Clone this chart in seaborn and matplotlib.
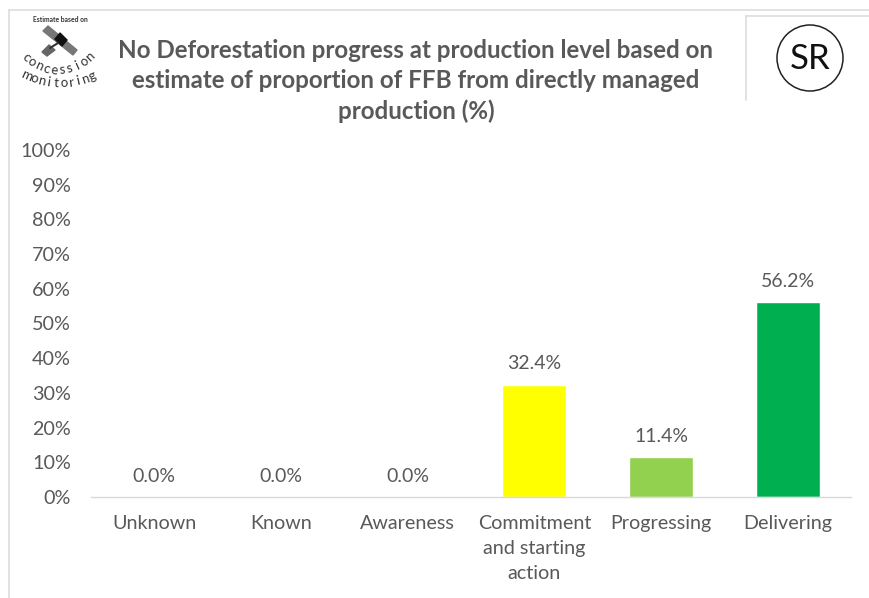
import numpy as np
import matplotlib.pyplot as plt
from matplotlib.lines import Line2D
from matplotlib.patches import Circle, Polygon
import seaborn as sns

# chart data
categories = ["Unknown", "Known", "Awareness", "Commitment\nand starting\naction", "Progressing", "Delivering"]
values = [0.0, 0.0, 0.0, 32.4, 11.4, 56.2]
bar_colors = ["#FF0000", "#FF6600", "#FFC000", "#FFFF00", "#92D050", "#00B050"]
y_ticks = list(range(0, 101, 10))
title = "No Deforestation progress at production level based on\nestimate of proportion of FFB from directly managed\nproduction (%)"

W, H = 869, 598
GREY = "#595959"

sns.set_theme(style="white")
plt.rcParams["font.family"] = ["Lato", "DejaVu Sans"]

fig = plt.figure(figsize=(W / 100, H / 100), dpi=100)
ax = fig.add_axes([91 / W, 1 - 497 / H, (851 - 91) / W, (497 - 150) / H])

sns.barplot(x=categories, y=values, hue=categories, palette=bar_colors, legend=False,
            width=0.505, saturation=1, ax=ax)

ax.set_xlim(-0.5, 5.5)
ax.set_ylim(0, 100)
ax.set_yticks(y_ticks)
ax.set_yticklabels([f"{t}%" for t in y_ticks], fontsize=14.2, color=GREY)
ax.tick_params(axis="x", length=0, pad=13, labelsize=14.2, labelcolor=GREY)
ax.tick_params(axis="y", length=0, pad=14.5)
plt.setp(ax.get_xticklabels(), linespacing=1.56)
sns.despine(ax=ax, left=True)
ax.spines["bottom"].set_color("#D9D9D9")
ax.spines["bottom"].set_linewidth(1)

# value labels above each bar
for i, v in enumerate(values):
    ax.annotate(f"{v:.1f}%", (i, v), xytext=(0, 8.7), textcoords="offset points",
                ha="center", va="bottom", fontsize=14, color=GREY)

# everything below is placed in pixel coords of the reference
bg = fig.add_axes([0, 0, 1, 1], zorder=5)
bg.set_xlim(0, W)
bg.set_ylim(H, 0)
bg.axis("off")
bg.patch.set_alpha(0)

bg.text(416, 81, title, ha="center", va="center", fontsize=17.4, fontweight="bold",
        color=GREY, linespacing=1.36)

# outer chart border and inner SR box edges
for xs, ys in [((9, 9), (10, 598)), ((9, 869), (10, 10)), ((746, 746), (16, 100)), ((746, 869), (16, 16))]:
    bg.add_line(Line2D(xs, ys, color="#DDDDDD", lw=1.2))

# SR badge
bg.add_patch(Circle((810, 58), 33, fill=False, ec="#222222", lw=1.1))
bg.text(810, 59, "SR", ha="center", va="center", fontsize=25, color="#111111")

# concession monitoring logo
bg.add_patch(Polygon([(43, 31), (48, 26), (77, 50), (73, 55)], color="#777777"))
bg.add_patch(Polygon([(55, 39), (60, 33), (67, 40), (62, 46)], color="#111111"))
bg.add_patch(Polygon([(42, 52), (49, 45), (55, 50), (47, 56)], color="#666666"))
bg.add_line(Line2D((50, 58), (48, 43), color="#333333", lw=1.5))
bg.text(60, 20, "Estimate based on", ha="center", va="center", fontsize=4.9,
        fontweight="bold", color="#333333")

def arc_text(word, cx, cy, r, start, step):
    # one letter at a time along a shallow arc
    for n, ch in enumerate(word):
        a = np.radians(start + n * step)
        bg.text(cx + r * np.sin(a), cy + r * np.cos(a), ch, ha="center", va="center", fontsize=9.5,
                rotation=np.degrees(a), color="#333333")

arc_text("concession", 58, 24, 46, -44, 9.8)
arc_text("monitoring", 60, 2, 81, -24, 5.3)

fig.savefig("out.png", dpi=100, facecolor="white")
